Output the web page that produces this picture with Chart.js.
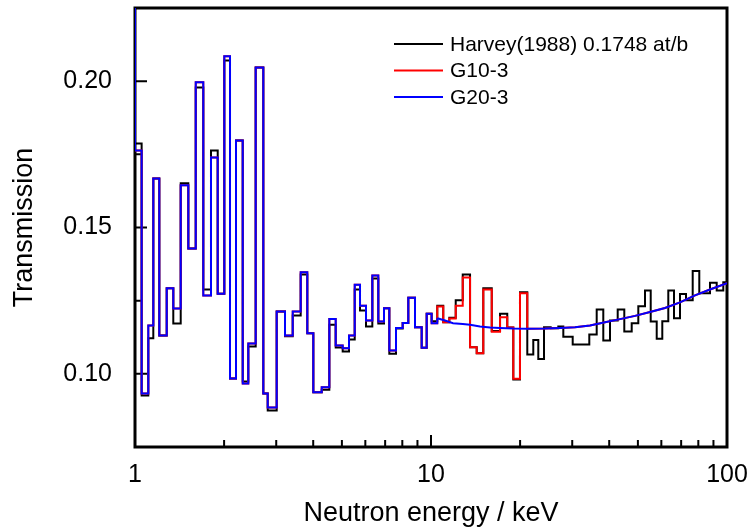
<!DOCTYPE html>
<html>
<head>
<meta charset="utf-8">
<script src="https://cdn.jsdelivr.net/npm/chart.js@4.4.1/dist/chart.umd.min.js"></script>
<style>
  html, body { margin: 0; padding: 0; background: #fff; }
  #wrap { width: 750px; height: 527px; }
</style>
</head>
<body>
<div id="wrap"><canvas id="chart" width="750" height="527"></canvas></div>
<script>
// Bin left edges (keV)
const energyEdges = [
  1.000, 1.053, 1.109, 1.153, 1.208, 1.280, 1.347, 1.427, 1.514, 1.604,
  1.701, 1.806, 1.903, 2.003, 2.094, 2.194, 2.312, 2.414, 2.557, 2.713,
  2.808, 3.011, 3.212, 3.411, 3.629, 3.820, 4.003, 4.274, 4.534, 4.765,
  5.031, 5.285, 5.525, 5.757, 6.032, 6.335, 6.637, 6.938, 7.230, 7.617,
  8.024, 8.381, 8.829, 9.302, 9.671, 10.05, 10.50, 11.00, 11.53, 12.12,
  12.80, 13.55, 14.27, 15.02, 16.04, 17.11, 18.10, 18.97, 19.98, 21.15,
  22.16, 23.04, 24.09, 25.37, 26.92, 27.99, 30.11, 34.26, 36.29, 38.20,
  40.24, 42.73, 44.98, 47.65, 50.16, 52.85, 55.24, 57.88, 60.45, 63.34,
  66.21, 69.37, 72.69, 76.58, 80.61, 87.61, 92.30, 97.16
];

// Harvey (1988) measured transmission, one value per bin
const harveyT = [
  0.1787, 0.0926, 0.1122, 0.1667, 0.1131, 0.1292, 0.1172, 0.1651, 0.1428, 0.1978,
  0.1288, 0.1763, 0.1274, 0.2071, 0.0984, 0.1797, 0.0974, 0.1093, 0.2047, 0.0933,
  0.0875, 0.1213, 0.1128, 0.1199, 0.1339, 0.1139, 0.0937, 0.0946, 0.1168, 0.1090,
  0.1076, 0.1117, 0.1288, 0.1216, 0.1162, 0.1326, 0.1172, 0.1224, 0.1069, 0.1155,
  0.1174, 0.1260, 0.1159, 0.1089, 0.1205, 0.1180, 0.1233, 0.1176, 0.1192, 0.1251,
  0.1339, 0.1091, 0.1070, 0.1292, 0.1146, 0.1205, 0.1158, 0.0981, 0.1279, 0.1066,
  0.1116, 0.1051, 0.1159, 0.1156, 0.1162, 0.1127, 0.1100, 0.1134, 0.1220, 0.1114,
  0.1182, 0.1220, 0.1145, 0.1173, 0.1231, 0.1285, 0.1179, 0.1120, 0.1180, 0.1285,
  0.1190, 0.1273, 0.1251, 0.1351, 0.1275, 0.1311, 0.1285, 0.1313
];

// Resonance-region steps shared by G10-3 and G20-3 (first 46 bins)
const resolvedT = [
  0.1763, 0.0933, 0.1165, 0.1667, 0.1131, 0.1292, 0.1223, 0.1644, 0.1428, 0.1996,
  0.1268, 0.1739, 0.1274, 0.2085, 0.0984, 0.1797, 0.0967, 0.1104, 0.2047, 0.0933,
  0.0885, 0.1213, 0.1131, 0.1213, 0.1347, 0.1139, 0.0937, 0.0954, 0.1187, 0.1097,
  0.1087, 0.1131, 0.1304, 0.1233, 0.1182, 0.1336, 0.1179, 0.1224, 0.1080, 0.1157,
  0.1174, 0.1260, 0.1159, 0.1089, 0.1205, 0.1173
];

// G10-3 keeps resolved steps up to ~21 keV
const g10ExtraT = [
  0.1230, 0.1176, 0.1189, 0.1233, 0.1329, 0.1091, 0.1070, 0.1288, 0.1144, 0.1193,
  0.1158, 0.0983, 0.1275
];

// Smooth (unresolved) model curve
const smoothE = [10.50, 11.15, 11.87, 12.80, 13.55, 14.64, 15.83, 17.11, 18.97, 21.15,
  24.28, 27.28, 30.66, 34.45, 38.71, 43.51, 48.89, 54.94, 61.73, 69.37, 77.96, 87.61, 100];
const smoothT = [0.1190, 0.1182, 0.1173, 0.1170, 0.1168, 0.1162, 0.1158, 0.1157, 0.1155, 0.1154,
  0.1155, 0.1157, 0.1159, 0.1165, 0.1176, 0.1187, 0.1198, 0.1211, 0.1225, 0.1244, 0.1268, 0.1288, 0.1310];

const seriesNames = ['Harvey(1988) 0.1748 at/b', 'G10-3', 'G20-3'];
const seriesColors = ['#000000', '#ff0000', '#0000ff'];

const xTicks = [1, 10, 100];
const xMinor = [2, 3, 4, 5, 6, 7, 8, 9, 20, 30, 40, 50, 60, 70, 80, 90];
const yTicks = [0.10, 0.15, 0.20];
const yMinor = [0.125, 0.175];

const FONT = '"Liberation Sans", Arial, sans-serif';

// step points: value held from each edge until the next one
function stepPoints(edges, vals, endE, endV) {
  const pts = [{ x: 0.98, y: 0.23 }];
  vals.forEach((v, i) => pts.push({ x: edges[i], y: v }));
  pts.push({ x: endE, y: endV });
  return pts;
}

const g10Steps = resolvedT.concat(g10ExtraT);
const g10SmoothStart = smoothE.indexOf(21.15);

const datasets = [
  {
    data: stepPoints(energyEdges, harveyT, 100, harveyT[harveyT.length - 1]),
    borderColor: seriesColors[0], stepped: true, order: 2
  },
  {
    data: stepPoints(energyEdges, g10Steps, smoothE[g10SmoothStart], smoothT[g10SmoothStart]),
    borderColor: seriesColors[1], stepped: true, order: 1
  },
  {
    data: smoothE.slice(g10SmoothStart).map((e, i) => ({ x: e, y: smoothT[g10SmoothStart + i] })),
    borderColor: seriesColors[1], order: 1
  },
  {
    data: stepPoints(energyEdges, resolvedT, smoothE[0], smoothT[0]),
    borderColor: seriesColors[2], stepped: true, order: 0
  },
  {
    data: smoothE.map((e, i) => ({ x: e, y: smoothT[i] })),
    borderColor: seriesColors[2], order: 0
  }
];
datasets.forEach(d => {
  d.borderWidth = 2;
  d.pointRadius = 0;
  d.fill = false;
  d.tension = 0;
  d.borderJoinStyle = 'miter';
});

// frame and inward ticks, drawn under the data
const framePlugin = {
  id: 'frame',
  beforeDatasetsDraw(chart) {
    const { ctx, chartArea: a, scales: { x, y } } = chart;
    ctx.save();
    ctx.strokeStyle = '#000';
    ctx.lineWidth = 3;
    ctx.strokeRect(a.left, a.top, a.right - a.left, a.bottom - a.top);
    ctx.lineWidth = 2;
    ctx.beginPath();
    xTicks.forEach(v => { const p = x.getPixelForValue(v); ctx.moveTo(p, a.bottom); ctx.lineTo(p, a.bottom - 12); });
    xMinor.forEach(v => { const p = x.getPixelForValue(v); ctx.moveTo(p, a.bottom); ctx.lineTo(p, a.bottom - 7); });
    yTicks.forEach(v => { const p = y.getPixelForValue(v); ctx.moveTo(a.left, p); ctx.lineTo(a.left + 12, p); });
    yMinor.forEach(v => { const p = y.getPixelForValue(v); ctx.moveTo(a.left, p); ctx.lineTo(a.left + 7, p); });
    ctx.stroke();
    ctx.restore();
  }
};

// legend in the upper right of the plot
const legendPlugin = {
  id: 'insetLegend',
  afterDatasetsDraw(chart) {
    const { ctx } = chart;
    ctx.save();
    ctx.font = '21px ' + FONT;
    ctx.textBaseline = 'middle';
    ctx.textAlign = 'left';
    seriesNames.forEach((name, i) => {
      const yy = 44 + i * 26.5;
      ctx.strokeStyle = seriesColors[i];
      ctx.lineWidth = 2;
      ctx.beginPath();
      ctx.moveTo(394, yy);
      ctx.lineTo(443, yy);
      ctx.stroke();
      ctx.fillStyle = '#000';
      ctx.fillText(name, 450, yy + 1);
    });
    ctx.restore();
  }
};

new Chart(document.getElementById('chart'), {
  type: 'line',
  data: { datasets },
  options: {
    responsive: false,
    animation: false,
    layout: { padding: { top: 8, right: 23, left: 0, bottom: 0 } },
    plugins: { legend: { display: false }, tooltip: { enabled: false } },
    scales: {
      x: {
        type: 'logarithmic',
        min: 1,
        max: 100,
        grid: { display: false },
        border: { display: false },
        afterBuildTicks: s => { s.ticks = xTicks.map(v => ({ value: v })); },
        afterFit: s => { s.height = 80; s.paddingLeft = 0; s.paddingRight = 0; },
        ticks: {
          color: '#000',
          font: { family: FONT, size: 25 },
          padding: 5,
          maxRotation: 0,
          autoSkip: false,
          callback: v => String(v)
        },
        title: {
          display: true,
          text: 'Neutron energy / keV',
          color: '#000',
          font: { family: FONT, size: 27, lineHeight: 1 },
          padding: { top: 0, bottom: 0 }
        }
      },
      y: {
        min: 0.075,
        max: 0.225,
        grid: { display: false },
        border: { display: false },
        afterBuildTicks: s => { s.ticks = yTicks.map(v => ({ value: v })); },
        afterFit: s => { s.width = 135; s.paddingTop = 0; s.paddingBottom = 0; },
        ticks: {
          color: '#000',
          font: { family: FONT, size: 25 },
          padding: 15,
          callback: v => v.toFixed(2)
        },
        title: {
          display: true,
          text: 'Transmission',
          color: '#000',
          font: { family: FONT, size: 27, lineHeight: 1 },
          padding: { top: 11, bottom: 0 }
        }
      }
    }
  },
  plugins: [framePlugin, legendPlugin]
});
</script>
</body>
</html>
